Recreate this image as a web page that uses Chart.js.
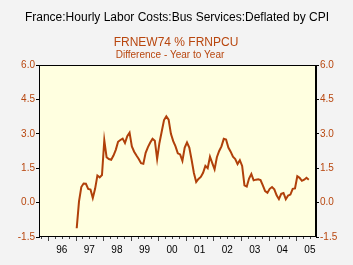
<!DOCTYPE html>
<html>
<head>
<meta charset="utf-8">
<script src="https://cdn.jsdelivr.net/npm/chart.js@4/dist/chart.umd.min.js"></script>
<style>
  html, body { margin: 0; padding: 0; background: #f3f3f3; }
  #wrap { width: 353px; height: 265px; position: relative; }
</style>
</head>
<body>
<div id="wrap"><canvas id="myChart"></canvas></div>
<script>
// monthly values, Jan 1997 .. Jun 2005
const startYear = 1997;
const values = [
  -1.12, 0.05, 0.68, 0.83, 0.82, 0.60, 0.57, 0.20, 0.60, 1.18, 1.10, 1.20,
  2.72, 1.98, 1.90, 1.87, 2.05, 2.30, 2.65, 2.73, 2.79, 2.60, 2.90, 3.05,
  2.45, 2.22, 2.05, 1.90, 1.72, 1.69, 2.17, 2.42, 2.62, 2.78, 2.70, 1.90,
  2.60, 3.10, 3.60, 3.76, 3.62, 3.00, 2.68, 2.45, 2.15, 2.10, 1.82, 2.40,
  2.62, 2.40, 1.87, 1.29, 0.90, 1.03, 1.12, 1.30, 1.60, 1.50, 2.00, 1.72,
  1.45, 1.98, 2.25, 2.45, 2.78, 2.75, 2.40, 2.22, 2.00, 1.90, 1.68, 1.85,
  1.60, 0.75, 0.70, 1.05, 1.25, 0.97, 1.00, 1.02, 0.98, 0.75, 0.50, 0.43,
  0.60, 0.68, 0.58, 0.32, 0.15, 0.38, 0.42, 0.15, 0.31, 0.35, 0.60, 0.62,
  1.15, 1.08, 0.95, 1.00, 1.08, 1.00
];
const yearLabels = ['96', '97', '98', '99', '00', '01', '02', '03', '04', '05'];
const yTicks = [-1.5, 0.0, 1.5, 3.0, 4.5, 6.0];

const points = values.map((v, i) => ({ x: startYear + (i + 0.5) / 12, y: v }));

const orange = '#b8460e';
const xMin = 1995.674, xMax = 2005.72;

const decor = {
  id: 'decor',
  beforeDraw(chart) {
    const c = chart.ctx, a = chart.chartArea;
    c.save();
    c.fillStyle = '#f3f3f3';
    c.fillRect(0, 0, chart.width, chart.height);
    c.fillStyle = '#ffffe0';
    c.fillRect(a.left, a.top, a.right - a.left, a.bottom - a.top);
    c.textAlign = 'center';
    c.fillStyle = '#000';
    c.font = '12px "Liberation Sans", Arial, sans-serif';
    c.fillText('France:Hourly Labor Costs:Bus Services:Deflated by CPI', 177, 21);
    c.fillStyle = orange;
    c.font = '12px "Liberation Sans", Arial, sans-serif';
    c.fillText('FRNEW74 % FRNPCU', 176, 46);
    c.font = '10px "Liberation Sans", Arial, sans-serif';
    c.fillText('Difference - Year to Year', 170, 58);
    c.restore();
  },
  afterDraw(chart) {
    const c = chart.ctx, a = chart.chartArea, xs = chart.scales.x;
    c.save();
    c.strokeStyle = '#000';
    c.lineWidth = 1;
    c.strokeRect(a.left + 0.5, a.top + 0.5, a.right - a.left - 1, a.bottom - a.top - 1);
    // minor ticks (quarters) and major ticks (years)
    c.strokeStyle = '#444';
    for (let q = Math.ceil(xMin * 4); q <= xMax * 4; q++) {
      const px = Math.round(xs.getPixelForValue(q / 4)) + 0.5;
      const len = q % 4 === 0 ? 4 : 2;
      c.beginPath();
      c.moveTo(px, a.bottom);
      c.lineTo(px, a.bottom + len);
      c.stroke();
    }
    c.fillStyle = '#000';
    c.textAlign = 'center';
    c.font = '10px "Liberation Sans", Arial, sans-serif';
    yearLabels.forEach((lab, i) => {
      c.fillText(lab, xs.getPixelForValue(1996 + i + 0.5), a.bottom + 16);
    });
    c.restore();
  }
};

const yAxis = (pos) => ({
  type: 'linear',
  position: pos,
  min: -1.5,
  max: 6,
  afterBuildTicks: (s) => { s.ticks = yTicks.map(v => ({ value: v })); },
  afterFit: (s) => { s.width = pos === 'left' ? 39 : 37; },
  border: { color: '#000' },
  grid: { drawOnChartArea: false, tickLength: 3, color: '#000' },
  ticks: {
    color: orange,
    padding: 1,
    font: { size: 10, family: '"Liberation Sans", Arial, sans-serif' },
    callback: (v) => v.toFixed(1)
  }
});

new Chart(document.getElementById('myChart'), {
  type: 'line',
  data: {
    datasets: [{
      data: points,
      borderColor: '#b0400a',
      borderWidth: 2,
      pointRadius: 0,
      tension: 0,
      fill: false
    }]
  },
  plugins: [decor],
  options: {
    responsive: true,
    maintainAspectRatio: false,
    animation: false,
    layout: { padding: { top: 65, left: 0, right: 0, bottom: 0 } },
    plugins: { legend: { display: false }, tooltip: { enabled: false } },
    scales: {
      x: {
        type: 'linear',
        min: xMin,
        max: xMax,
        afterFit: (s) => { s.height = 28; },
        border: { display: false },
        grid: { display: false },
        ticks: { display: false }
      },
      y: yAxis('left'),
      y2: yAxis('right')
    }
  }
});
</script>
</body>
</html>
